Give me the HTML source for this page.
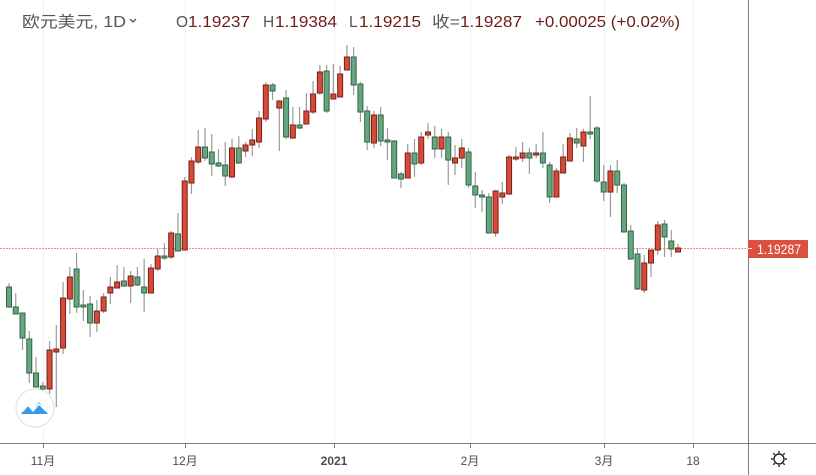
<!DOCTYPE html>
<html><head><meta charset="utf-8">
<style>
html,body{margin:0;padding:0;background:#fff;}
body{width:816px;height:475px;overflow:hidden;position:relative;font-family:"Liberation Sans","Noto Sans CJK SC",sans-serif;}
svg{position:absolute;left:0;top:0;}
</style></head><body>
<svg id="s" width="816" height="475" xmlns="http://www.w3.org/2000/svg">
<g stroke="#eef2f7" stroke-width="1">
<line x1="43.5" y1="0" x2="43.5" y2="443"/>
<line x1="185.5" y1="0" x2="185.5" y2="443"/>
<line x1="334.5" y1="0" x2="334.5" y2="443"/>
<line x1="470.5" y1="0" x2="470.5" y2="443"/>
<line x1="604.5" y1="0" x2="604.5" y2="443"/>
<line x1="693.5" y1="0" x2="693.5" y2="443"/>
</g>
<line x1="0" y1="248.5" x2="748" y2="248.5" stroke="#ec8f86" stroke-width="1" stroke-dasharray="2,1"/>
<g id="c"></g>
<line x1="0" y1="443.5" x2="816" y2="443.5" stroke="#787b86" stroke-width="1"/>
<line x1="748.5" y1="0" x2="748.5" y2="475" stroke="#787b86" stroke-width="1"/>
<g stroke="#787b86">
<line x1="43.5" y1="443" x2="43.5" y2="448"/><line x1="185.5" y1="443" x2="185.5" y2="448"/>
<line x1="334.5" y1="443" x2="334.5" y2="448"/><line x1="470.5" y1="443" x2="470.5" y2="448"/>
<line x1="604.5" y1="443" x2="604.5" y2="448"/><line x1="693.5" y1="443" x2="693.5" y2="448"/>
</g>
<g font-size="12" fill="#4a4d57" text-anchor="middle" font-family="Liberation Sans, Noto Sans CJK SC, sans-serif">
<text x="43" y="465">11月</text><text x="185" y="465">12月</text>
<text x="334" y="465" font-weight="bold">2021</text><text x="470" y="465">2月</text>
<text x="604" y="465">3月</text><text x="693" y="465">18</text>
</g>
<rect x="748" y="240" width="60" height="18" fill="#dc5040"/>
<line x1="748" y1="248.5" x2="752" y2="248.5" stroke="#fff"/>
<text x="757" y="254" font-size="13.5" fill="#fff" font-family="Liberation Sans, sans-serif" textLength="44" lengthAdjust="spacingAndGlyphs">1.19287</text>
<g stroke="#222" stroke-width="1.4" fill="none">
<circle cx="779" cy="459" r="5"/>
<line x1="779" y1="451" x2="779" y2="453"/><line x1="779" y1="465" x2="779" y2="467"/>
<line x1="771" y1="459" x2="773" y2="459"/><line x1="785" y1="459" x2="787" y2="459"/>
<line x1="773.3" y1="453.3" x2="774.8" y2="454.8"/><line x1="783.2" y1="463.2" x2="784.7" y2="464.7"/>
<line x1="784.7" y1="453.3" x2="783.2" y2="454.8"/><line x1="774.8" y1="463.2" x2="773.3" y2="464.7"/>
</g>
<circle cx="35" cy="408" r="19" fill="#fff" stroke="#e3e3e3" stroke-width="1.2"/>
<path d="M21 414 L28 404 L33 410 L39 402 L48 414 Z" fill="#2f9cf0"/>
<path d="M23 411 L28 405 L33 411 L39 404 L46 411" fill="none" stroke="#fff" stroke-width="1.5"/>
<g font-size="15.5" font-family="Liberation Sans, Noto Sans CJK SC, sans-serif">
<text x="22" y="27" fill="#555" textLength="104" lengthAdjust="spacingAndGlyphs">欧元美元, 1D</text>
<path d="M130 19 L133 22 L136 19" stroke="#555" stroke-width="1.3" fill="none"/>
<text x="176" y="27" fill="#555">O</text><text x="188" y="27" fill="#6b1c17" textLength="62" lengthAdjust="spacingAndGlyphs">1.19237</text>
<text x="263" y="27" fill="#555">H</text><text x="275" y="27" fill="#6b1c17" textLength="62" lengthAdjust="spacingAndGlyphs">1.19384</text>
<text x="349" y="27" fill="#555">L</text><text x="359" y="27" fill="#6b1c17" textLength="62" lengthAdjust="spacingAndGlyphs">1.19215</text>
<text x="432" y="27" fill="#555" textLength="28" lengthAdjust="spacingAndGlyphs">收=</text><text x="460" y="27" fill="#6b1c17" textLength="62" lengthAdjust="spacingAndGlyphs">1.19287</text>
<text x="535" y="27" fill="#6b1c17" textLength="145" lengthAdjust="spacingAndGlyphs">+0.00025 (+0.02%)</text>
</g>
</svg>
<script>
var d=[[283,308,287,307,0],[293,314,307,314,0],[313,350,313,338,0],[331,383,339,373,0],[357,387,373,387,0],[382,393,386,389,0],[341,394,350,389,1],[325,407,349,352,1],[282,354,298,348,1],[267,314,277,299,1],[253,313,269,307,0],[290,321,305,306,0],[296,337,304,323,0],[300,332,311,323,1],[293,313,297,311,1],[277,304,287,293,1],[265,288,282,288,1],[267,287,281,286,0],[271,303,276,286,1],[267,286,277,285,0],[259,312,287,293,0],[264,293,268,293,1],[249,271,256,269,1],[243,260,256,257,0],[231,259,233,257,1],[213,251,234,251,0],[177,250,181,250,1],[157,194,161,183,1],[130,164,147,162,1],[128,161,147,158,0],[134,176,152,164,0],[149,167,163,166,0],[142,186,165,176,0],[139,178,148,177,1],[136,164,148,163,0],[142,157,145,151,1],[129,156,140,145,1],[111,148,118,142,1],[82,122,85,119,1],[83,100,85,91,0],[100,151,101,108,1],[90,139,98,137,0],[107,139,125,138,1],[107,129,125,128,0],[93,124,111,124,1],[81,114,94,112,1],[65,95,72,93,1],[65,113,71,111,0],[64,99,94,99,1],[66,97,74,97,1],[45,70,57,70,1],[47,95,57,85,0],[82,122,84,112,0],[106,150,111,142,0],[111,148,115,143,1],[107,146,115,141,0],[128,160,140,141,0],[140,178,141,178,0],[172,188,174,179,0],[144,178,153,178,1],[139,177,153,164,0],[132,165,137,163,1],[123,139,132,135,1],[126,158,137,149,0],[129,158,137,149,1],[132,185,137,160,0],[145,175,158,163,1],[139,168,148,158,1],[148,188,152,185,0],[172,208,186,195,0],[190,212,195,197,0],[193,233,197,233,0],[190,237,191,233,1],[182,204,193,197,1],[155,195,157,194,1],[147,161,157,159,1],[142,162,153,158,1],[148,174,153,158,0],[144,158,153,155,1],[132,168,153,163,0],[162,203,165,197,0],[168,197,171,197,1],[144,173,157,173,1],[133,161,138,161,1],[128,148,139,143,0],[129,162,132,146,1],[96,139,132,133,0],[126,183,128,181,0],[165,201,182,192,0],[165,217,171,192,1],[160,193,171,185,0],[183,232,185,232,0],[225,260,231,259,0],[248,290,254,289,0],[255,293,263,290,1],[250,277,250,263,1],[221,255,225,250,1],[220,257,224,237,0],[230,257,241,249,0],[244,252,248,252,1]];
var h='';
for(var i=0;i<d.length;i++){var x=9+i*6.758,c=d[i];
h+='<line x1="'+x+'" y1="'+c[0]+'" x2="'+x+'" y2="'+c[1]+'" stroke="#9a9a9a" stroke-width="1.2"/>';
var bh=Math.max(c[3]-c[2],2);
h+='<rect x="'+(x-2.5)+'" y="'+c[2]+'" width="5" height="'+bh+'" fill="'+(c[4]?'#d64b38':'#69a481')+'" stroke="'+(c[4]?'#7b1f15':'#2f6644')+'" stroke-width="1"/>';}
document.getElementById('c').innerHTML=h;
</script>
</body></html>
